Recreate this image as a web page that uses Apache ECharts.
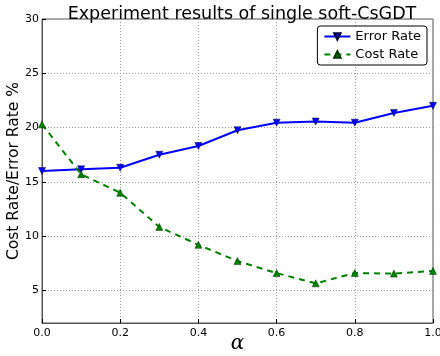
<!DOCTYPE html>
<html><head><meta charset="utf-8">
<script src="https://cdn.jsdelivr.net/npm/echarts@6/dist/echarts.min.js"></script>
<style>html,body{margin:0;padding:0;background:#fff}#c{width:440px;height:356px}</style>
</head><body><div id="c"></div>
<script>
var alphas = [0.0, 0.1, 0.2, 0.3, 0.4, 0.5, 0.6, 0.7, 0.8, 0.9, 1.0];
var errorRate = [16.0, 16.15, 16.3, 17.5, 18.3, 19.75, 20.45, 20.55, 20.45, 21.35, 22.0];
var costRate = [20.3, 15.7, 14.0, 10.85, 9.2, 7.7, 6.6, 5.65, 6.6, 6.55, 6.8];
var yTicks = [5, 10, 15, 20, 25, 30];

var font = 'DejaVu Sans';
var chart = echarts.init(document.getElementById('c'), null, {renderer: 'canvas'});
function pairs(v) { return alphas.map(function (a, i) { return [a, v[i]]; }); }
chart.setOption({
  animation: false,
  title: {
    text: 'Experiment results of single soft-CsGDT',
    left: 237, textAlign: 'center', top: 0,
    textStyle: {fontFamily: font, fontSize: 17.5, fontWeight: 'normal', color: '#000'}
  },
  legend: {
    orient: 'vertical', right: 13, top: 26,
    backgroundColor: '#fff', borderColor: '#000', borderWidth: 1, borderRadius: 3,
    padding: [4, 6, 4, 6], itemGap: 5, itemWidth: 26, itemHeight: 8,
    textStyle: {fontFamily: font, fontSize: 13, color: '#000'},
    data: ['Error Rate', 'Cost Rate']
  },
  grid: {left: 42, right: 7, top: 19, bottom: 33, show: true, borderColor: '#555', borderWidth: 1,
    containLabel: false, outerBoundsMode: 'none'},
  xAxis: {
    type: 'value', min: 0, max: 1, interval: 0.2,
    name: 'α', nameLocation: 'middle', nameGap: 11, nameMoveOverlap: false,
    nameTextStyle: {fontFamily: 'DejaVu Serif', fontStyle: 'italic', fontSize: 20, color: '#000'},
    axisLine: {lineStyle: {color: '#555'}},
    axisTick: {inside: true, length: 4, lineStyle: {color: '#000'}},
    axisLabel: {fontFamily: font, fontSize: 11, color: '#000', margin: 5,
      formatter: function (v) { return v.toFixed(1); }},
    splitLine: {show: true, lineStyle: {color: '#999', type: [1, 2]}}
  },
  yAxis: {
    type: 'value', min: 2, max: 30,
    name: 'Cost Rate/Error Rate %', nameLocation: 'middle', nameGap: 20, nameMoveOverlap: false,
    nameTextStyle: {fontFamily: font, fontSize: 15.5, color: '#000'},
    axisLine: {show: true, lineStyle: {color: '#555'}},
    axisTick: {inside: true, length: 4, lineStyle: {color: '#000'},
      customValues: yTicks},
    axisLabel: {fontFamily: font, fontSize: 11, color: '#000', margin: 3,
      customValues: yTicks},
    splitLine: {show: true, lineStyle: {color: '#999', type: [1, 2]}}
  },
  series: [
    {
      name: 'Error Rate', type: 'line', data: pairs(errorRate),
      symbol: 'triangle', symbolRotate: 180, symbolSize: 7,
      lineStyle: {color: '#0000ff', width: 2},
      itemStyle: {color: '#0000ff', borderColor: '#000033', borderWidth: 0.5}
    },
    {
      name: 'Cost Rate', type: 'line', data: pairs(costRate),
      symbol: 'triangle', symbolSize: 7,
      lineStyle: {color: '#007f00', width: 2, type: [6, 5]},
      itemStyle: {color: '#007f00', borderColor: '#003300', borderWidth: 0.5}
    }
  ]
});
</script></body></html>
